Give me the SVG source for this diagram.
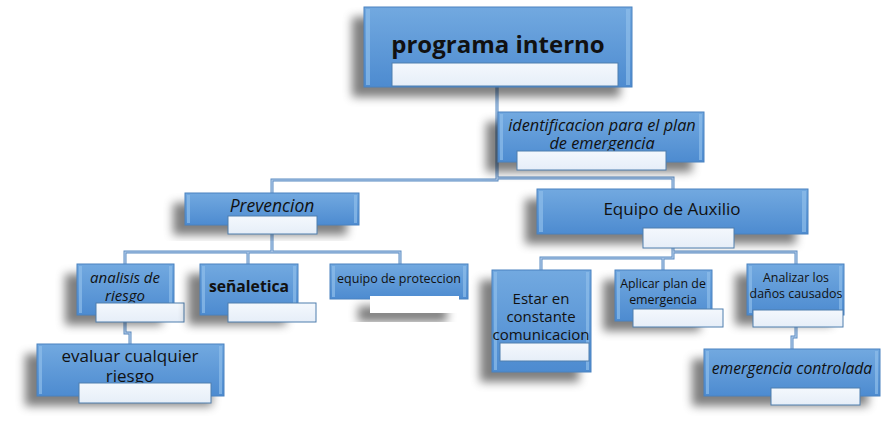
<svg xmlns="http://www.w3.org/2000/svg" width="891" height="429" viewBox="0 0 891 429">
<defs>
<linearGradient id="g" x1="0" y1="0" x2="0" y2="1">
<stop offset="0" stop-color="#72a9e0"/>
<stop offset="1" stop-color="#4d8bd0"/>
</linearGradient>
<linearGradient id="lg" x1="0" y1="0" x2="0" y2="1">
<stop offset="0" stop-color="#f4f8fd"/>
<stop offset="1" stop-color="#e6eef8"/>
</linearGradient>
<filter id="sh" x="-30%" y="-30%" width="160%" height="180%">
<feOffset dx="-12" dy="10" in="SourceAlpha" result="o"/>
<feGaussianBlur in="o" stdDeviation="5" result="b"/>
<feFlood flood-color="#000" flood-opacity="0.5"/>
<feComposite in2="b" operator="in"/>
</filter>
</defs>
<style>
.box{fill:url(#g);stroke:#4a82c0;stroke-width:1}
.edge{fill:#8fbdea;opacity:0.7}
.lab{fill:url(#lg);stroke:#4f7eae;stroke-width:1}
.t{font-family:"Open Sans","DejaVu Sans",sans-serif;fill:#111;text-anchor:middle}
.c1{fill:none;stroke:#5b8bc2;stroke-width:3}
.c2{fill:none;stroke:#b3cdea;stroke-width:1.2}
</style>

<g id="connectors">
<g class="c1">
<path d="M497 87V180H272V193"/>
<path d="M497 178H673V189"/>
<path d="M272 234V252M125 265V252H400V265M248 252V265"/>
<path d="M125 322V333H130V344"/>
<path d="M673 248V258H541V270M663 258V270M673 252H796V264"/>
<path d="M796 327V337H792V349"/>
</g>
<g class="c2">
<path d="M497 87V180H272V193"/>
<path d="M497 178H673V189"/>
<path d="M272 234V252M125 265V252H400V265M248 252V265"/>
<path d="M125 322V333H130V344"/>
<path d="M673 248V258H541V270M663 258V270M673 252H796V264"/>
<path d="M796 327V337H792V349"/>
</g>
</g>

<g id="n-programa">
<rect x="364" y="7" width="268" height="80" filter="url(#sh)"/>
<rect class="box" x="364" y="7" width="268" height="80"/>
<rect class="edge" x="366" y="9" width="4" height="76"/><rect class="edge" x="626" y="9" width="4" height="76"/>
<text class="t" x="498" y="53" font-size="24" font-weight="bold">programa interno</text>
<rect class="lab" x="392" y="63" width="226" height="23"/>
</g>

<g id="n-identificacion">
<rect x="498" y="112" width="206" height="50" filter="url(#sh)"/>
<rect class="box" x="498" y="112" width="206" height="50"/>
<rect class="edge" x="500" y="114" width="3" height="46"/><rect class="edge" x="699" y="114" width="3" height="46"/>
<text class="t" x="602" y="131" font-size="16.3" font-style="italic">identificacion para el plan</text>
<text class="t" x="602" y="149" font-size="16.3" font-style="italic">de emergencia</text>
<rect class="lab" x="517" y="151" width="149" height="19"/>
</g>

<g id="n-prevencion">
<rect x="185" y="193" width="174" height="32" filter="url(#sh)"/>
<rect class="box" x="185" y="193" width="174" height="32"/>
<rect class="edge" x="187" y="195" width="3" height="28"/><rect class="edge" x="354" y="195" width="3" height="28"/>
<text class="t" x="272" y="212" font-size="17.5" font-style="italic">Prevencion</text>
<rect class="lab" x="228" y="216" width="89" height="18"/>
</g>

<g id="n-auxilio">
<rect x="537" y="189" width="271" height="45" filter="url(#sh)"/>
<rect class="box" x="537" y="189" width="271" height="45"/>
<rect class="edge" x="539" y="191" width="4" height="41"/><rect class="edge" x="802" y="191" width="4" height="41"/>
<text class="t" x="672" y="215" font-size="17">Equipo de Auxilio</text>
<rect class="lab" x="643" y="228" width="91" height="20"/>
</g>

<g id="n-analisis">
<rect x="77" y="264" width="97" height="51" filter="url(#sh)"/>
<rect class="box" x="77" y="264" width="97" height="51"/>
<rect class="edge" x="79" y="266" width="3" height="47"/><rect class="edge" x="169" y="266" width="3" height="47"/>
<text class="t" x="125" y="283" font-size="15" font-style="italic">analisis de</text>
<text class="t" x="125" y="301" font-size="15" font-style="italic">riesgo</text>
<rect class="lab" x="96" y="303" width="88" height="19"/>
</g>

<g id="n-senaletica">
<rect x="200" y="264" width="98" height="51" filter="url(#sh)"/>
<rect class="box" x="200" y="264" width="98" height="51"/>
<rect class="edge" x="202" y="266" width="3" height="47"/><rect class="edge" x="293" y="266" width="3" height="47"/>
<text class="t" x="249" y="292" font-size="15.7" font-weight="bold">señaletica</text>
<rect class="lab" x="228" y="303" width="88" height="19"/>
</g>

<g id="n-proteccion">
<rect x="370" y="296" width="89" height="17" filter="url(#sh)"/>
<rect class="box" x="330" y="264" width="138" height="35"/>
<rect class="edge" x="332" y="266" width="3" height="31"/><rect class="edge" x="463" y="266" width="3" height="31"/>
<text class="t" x="399" y="283" font-size="12.5">equipo de proteccion</text>
<rect x="370" y="296" width="89" height="17" fill="#ffffff"/>
</g>

<g id="n-evaluar">
<rect x="37" y="344" width="187" height="52" filter="url(#sh)"/>
<rect class="box" x="37" y="344" width="187" height="52"/>
<rect class="edge" x="39" y="346" width="3" height="48"/><rect class="edge" x="219" y="346" width="3" height="48"/>
<text class="t" x="130" y="362" font-size="17">evaluar cualquier</text>
<text class="t" x="130" y="382" font-size="17">riesgo</text>
<rect class="lab" x="79" y="383" width="132" height="20"/>
</g>

<g id="n-estar">
<rect x="492" y="270" width="99" height="102" filter="url(#sh)"/>
<rect class="box" x="492" y="270" width="99" height="102"/>
<rect class="edge" x="494" y="272" width="3" height="98"/><rect class="edge" x="586" y="272" width="3" height="98"/>
<text class="t" x="541" y="304" font-size="15">Estar en</text>
<text class="t" x="541" y="322" font-size="15">constante</text>
<text class="t" x="541" y="340" font-size="15">comunicacion</text>
<rect class="lab" x="500" y="343" width="89" height="18"/>
</g>

<g id="n-aplicar">
<rect x="615" y="270" width="97" height="51" filter="url(#sh)"/>
<rect class="box" x="615" y="270" width="97" height="51"/>
<rect class="edge" x="617" y="272" width="3" height="47"/><rect class="edge" x="707" y="272" width="3" height="47"/>
<text class="t" x="663" y="288" font-size="12.4">Aplicar plan de</text>
<text class="t" x="663" y="304" font-size="12.4">emergencia</text>
<rect class="lab" x="633" y="309" width="90" height="18"/>
</g>

<g id="n-analizar">
<rect x="747" y="264" width="97" height="51" filter="url(#sh)"/>
<rect class="box" x="747" y="264" width="97" height="51"/>
<rect class="edge" x="749" y="266" width="3" height="47"/><rect class="edge" x="839" y="266" width="3" height="47"/>
<text class="t" x="796" y="282" font-size="12.4">Analizar los</text>
<text class="t" x="796" y="298" font-size="12.4">daños causados</text>
<rect class="lab" x="753" y="310" width="90" height="17"/>
</g>

<g id="n-controlada">
<rect x="704" y="349" width="176" height="47" filter="url(#sh)"/>
<rect class="box" x="704" y="349" width="176" height="47"/>
<rect class="edge" x="706" y="351" width="3" height="43"/><rect class="edge" x="875" y="351" width="3" height="43"/>
<text class="t" x="792" y="374" font-size="15.7" font-style="italic">emergencia controlada</text>
<rect class="lab" x="771" y="388" width="89" height="17"/>
</g>
</svg>
